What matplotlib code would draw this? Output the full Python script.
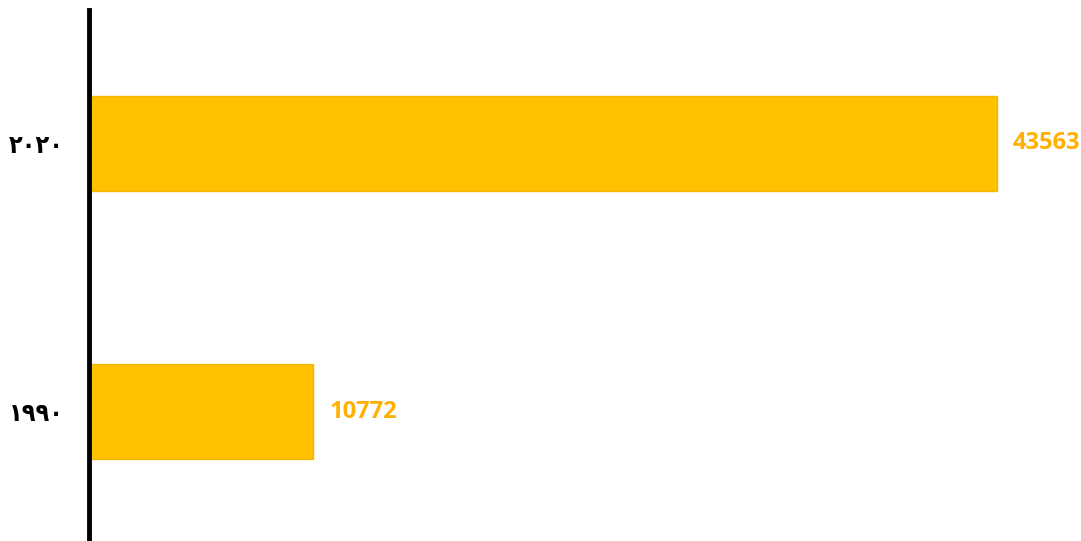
import matplotlib
matplotlib.use("Agg")
import matplotlib.pyplot as plt

categories = ["١٩٩٠", "٢٠٢٠"]
values = [10772, 43563]
value_labels = ["10772", "43563"]

fig = plt.figure(figsize=(10.81, 5.41), dpi=100)
ax = fig.add_axes([89/1081, 0, 1 - 89/1081, 531/541])
pos = list(range(len(categories)))
ax.barh(pos, values, height=0.355, color="#FFC000", edgecolor="#F2B600", linewidth=1)
ax.set_xlim(0, 47600)
ax.set_ylim(-0.483, 1.498)
for p, v, t in zip(pos, values, value_labels):
    ax.text(v + 750, p, t, va="center", ha="left", color="#FFB000",
            fontsize=17, fontweight="bold", family=["Open Sans", "DejaVu Sans"])
ax.set_yticks(pos)
ax.set_yticklabels(categories, fontsize=18, fontweight="bold",
                   fontstretch="condensed", family=["DejaVu Sans"])
ax.tick_params(axis="y", length=0, pad=18)
ax.set_xticks([])
for s in ["top", "right", "bottom"]:
    ax.spines[s].set_visible(False)
ax.spines["left"].set_linewidth(3.5)
ax.spines["left"].set_color("black")
fig.savefig("out.png", dpi=100)
